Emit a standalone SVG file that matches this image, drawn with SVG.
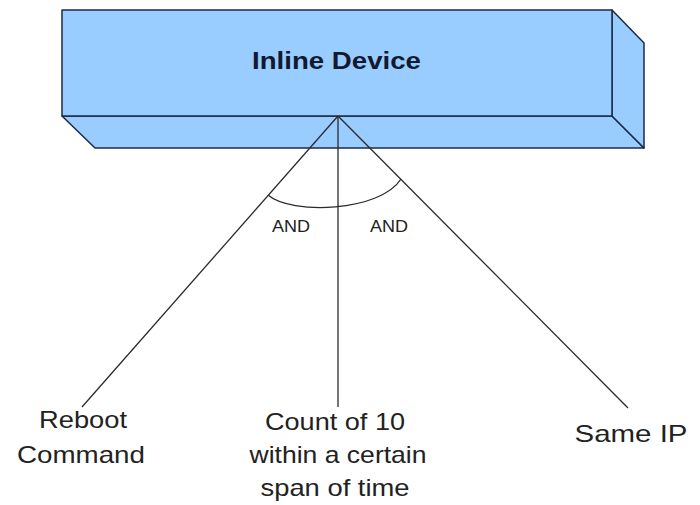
<svg xmlns="http://www.w3.org/2000/svg" width="700" height="505" viewBox="0 0 700 505">
  <style>
    .face { fill: #99ccff; stroke: #1b2b45; stroke-width: 1.5; stroke-linejoin: round; }
    .wire { fill: none; stroke: #2a2a2a; stroke-width: 1.3; }
    .title { font-family: "Liberation Sans", Arial, sans-serif; font-weight: bold; font-size: 24px; fill: #111a2e; }
    .lbl { font-family: "Liberation Sans", Arial, sans-serif; font-size: 24px; fill: #222; }
    .and { font-family: "Liberation Sans", Arial, sans-serif; font-size: 16px; fill: #222; }
  </style>
  <rect width="700" height="505" fill="#ffffff"/>

  <!-- 3D box -->
  <g id="inline-device">
    <polygon class="face" points="62,116 612,116 644,148 95,148"/>
    <polygon class="face" points="612,10 644,43 644,148 612,116"/>
    <rect class="face" x="62" y="10" width="550" height="106"/>
    <text class="title" x="336.5" y="69" text-anchor="middle" textLength="169" lengthAdjust="spacingAndGlyphs">Inline Device</text>
  </g>

  <!-- connectors from the box to the conditions -->
  <g id="connectors">
    <line class="wire" x1="338" y1="116" x2="82" y2="407"/>
    <line class="wire" x1="338" y1="116" x2="338" y2="407"/>
    <line class="wire" x1="338" y1="116" x2="628" y2="408"/>
    <path class="wire" d="M268,195 C291,215 380,212 401,179"/>
    <text class="and" x="291" y="232" text-anchor="middle" textLength="38" lengthAdjust="spacingAndGlyphs">AND</text>
    <text class="and" x="389" y="232" text-anchor="middle" textLength="38" lengthAdjust="spacingAndGlyphs">AND</text>
  </g>

  <g id="reboot-command">
    <text class="lbl" x="83" y="428" text-anchor="middle" textLength="88" lengthAdjust="spacingAndGlyphs">Reboot</text>
    <text class="lbl" x="81" y="463" text-anchor="middle" textLength="128" lengthAdjust="spacingAndGlyphs">Command</text>
  </g>

  <g id="count-of-10">
    <text class="lbl" x="335" y="430" text-anchor="middle" textLength="140" lengthAdjust="spacingAndGlyphs">Count of 10</text>
    <text class="lbl" x="338" y="463" text-anchor="middle" textLength="177" lengthAdjust="spacingAndGlyphs">within a certain</text>
    <text class="lbl" x="335" y="496" text-anchor="middle" textLength="149" lengthAdjust="spacingAndGlyphs">span of time</text>
  </g>

  <g id="same-ip">
    <text class="lbl" x="631" y="442" text-anchor="middle" textLength="113" lengthAdjust="spacingAndGlyphs">Same IP</text>
  </g>
</svg>
